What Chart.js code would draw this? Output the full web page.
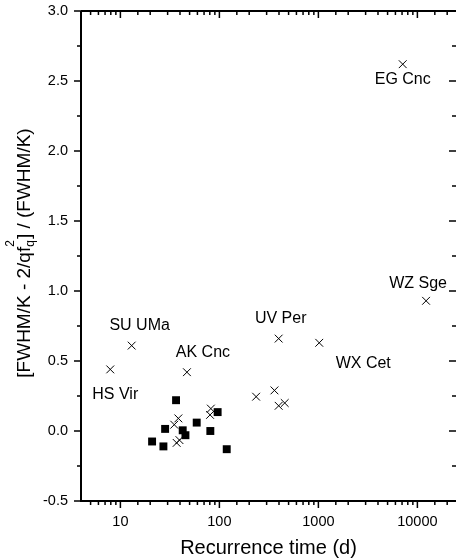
<!DOCTYPE html>
<html>
<head>
<meta charset="utf-8">
<script src="https://cdn.jsdelivr.net/npm/chart.js@4/dist/chart.umd.min.js"></script>
<style>
html, body { margin: 0; padding: 0; background: #fff; overflow: hidden; }
</style>
</head>
<body>
<canvas id="chart" width="456" height="560"></canvas>
<script>
// Crosses: recurrence time (d) and normalised width difference
// (the first seven are the named systems)
const crossTimes  = [7110, 12240, 13.0, 7.9, 47, 397, 1020, 235, 360, 397, 457, 38.5, 35, 39.5, 37, 82, 80.5];
const crossValues = [2.62, 0.93, 0.61, 0.44, 0.42, 0.66, 0.63, 0.245, 0.29, 0.18, 0.20, 0.09, 0.045, -0.065, -0.085, 0.16, 0.115];
const starNames   = ['EG Cnc', 'WZ Sge', 'SU UMa', 'HS Vir', 'AK Cnc', 'UV Per', 'WX Cet'];

// Filled squares
const squareTimes  = [36.5, 28.3, 20.9, 27.2, 42.6, 45.4, 59, 81, 96, 118.6];
const squareValues = [0.22, 0.015, -0.075, -0.11, 0.005, -0.03, 0.06, 0.0, 0.135, -0.13];

// Tick labels
const xTickLabels = [10, 100, 1000, 10000];
const yTickLabels = [-0.5, 0.0, 0.5, 1.0, 1.5, 2.0, 2.5, 3.0];

const FONT = '"Liberation Sans", Arial, Helvetica, sans-serif';
Chart.defaults.font.family = FONT;
Chart.defaults.color = '#000';

// Where each name sits relative to its cross (pixels, text centre / baseline)
const nameOffsets = [[0, 20], [-8, -13], [8, -16], [5, 30], [16, -15], [2, -16], [44, 25]];

function isDecade(v) {
    const l = Math.log10(v);
    return Math.abs(l - Math.round(l)) < 1e-6;
}
function isHalf(v) {
    return Math.abs(v * 2 - Math.round(v * 2)) < 1e-6;
}

// Axis lines and tick marks (inside on top/right, outside on bottom/left)
const framePlugin = {
    id: 'frame',
    afterDraw(chart) {
        const { ctx, chartArea: a, scales: { x, y } } = chart;
        ctx.save();
        ctx.strokeStyle = '#000';
        ctx.lineWidth = 2;
        ctx.beginPath();
        ctx.moveTo(a.left, a.top);
        ctx.lineTo(a.right + 2, a.top);
        ctx.moveTo(a.left, a.top);
        ctx.lineTo(a.left, a.bottom);
        ctx.lineTo(a.right + 2, a.bottom);
        ctx.moveTo(a.right + 1, a.top);
        ctx.lineTo(a.right + 1, a.bottom);
        ctx.stroke();

        ctx.lineWidth = 1.5;
        ctx.beginPath();
        for (const t of x.ticks) {
            if (t.value <= x.min || t.value >= x.max) continue;
            const px = x.getPixelForValue(t.value);
            const len = isDecade(t.value) ? 7 : 4;
            ctx.moveTo(px, a.bottom);
            ctx.lineTo(px, a.bottom + len);
            ctx.moveTo(px, a.top);
            ctx.lineTo(px, a.top + len);
        }
        for (const t of y.ticks) {
            const py = y.getPixelForValue(t.value);
            const len = isHalf(t.value) ? 7 : 4;
            ctx.moveTo(a.left, py);
            ctx.lineTo(a.left - len, py);
            ctx.moveTo(a.right, py);
            ctx.lineTo(a.right - len, py);
        }
        ctx.stroke();
        ctx.restore();
    }
};

// Star names next to their crosses, and the y axis title with sub/superscripts
const textPlugin = {
    id: 'texts',
    afterDraw(chart) {
        const ctx = chart.ctx;
        const pts = chart.getDatasetMeta(0).data;
        ctx.save();
        ctx.fillStyle = '#000';
        ctx.font = '16px ' + FONT;
        ctx.textAlign = 'center';
        ctx.textBaseline = 'alphabetic';
        starNames.forEach((name, i) => {
            const p = pts[i];
            ctx.fillText(name, p.x + nameOffsets[i][0], p.y + nameOffsets[i][1]);
        });

        // y axis title
        const big = '19px ' + FONT, small = '12px ' + FONT;
        const left = '[FWHM/K - 2/qf', right = '] / (FWHM/K)';
        ctx.font = big;
        const w1 = ctx.measureText(left).width;
        const w3 = ctx.measureText(right).width;
        ctx.font = small;
        const w2 = Math.max(ctx.measureText('q').width, ctx.measureText('2').width) + 1;
        const total = w1 + w2 + w3;
        ctx.translate(30, 253);
        ctx.rotate(-Math.PI / 2);
        ctx.textAlign = 'left';
        let cx = -total / 2;
        ctx.font = big;
        ctx.fillText(left, cx, 0);
        cx += w1;
        ctx.font = small;
        ctx.fillText('q', cx, 4);
        ctx.fillText('2', cx, -16);
        cx += w2;
        ctx.font = big;
        ctx.fillText(right, cx, 0);
        ctx.restore();
    }
};

const toPoints = (xs, ys) => xs.map((v, i) => ({ x: v, y: ys[i] }));

const chartConfig = {
    type: 'scatter',
    data: {
        datasets: [{
            label: 'crosses',
            data: toPoints(crossTimes, crossValues),
            pointStyle: 'crossRot',
            pointRadius: 5.5,
            borderColor: '#000',
            backgroundColor: '#000',
            borderWidth: 1
        }, {
            label: 'squares',
            data: toPoints(squareTimes, squareValues),
            pointStyle: 'rect',
            pointRadius: 5.6,
            borderColor: '#000',
            backgroundColor: '#000',
            borderWidth: 0
        }]
    },
    options: {
        responsive: false,
        animation: false,
        devicePixelRatio: 1,
        layout: { autoPadding: false, padding: { top: 11, left: 0, right: 0, bottom: 0 } },
        scales: {
            x: {
                type: 'logarithmic',
                min: 4,
                max: 24550,
                grid: { display: false, drawTicks: false },
                border: { display: false },
                ticks: {
                    autoSkip: false,
                    maxRotation: 0,
                    padding: 12,
                    font: { size: 14.5 },
                    callback: (v) => xTickLabels.some(l => Math.abs(l - v) < 1e-6) ? String(v) : ''
                },
                title: {
                    display: true,
                    text: 'Recurrence time (d)',
                    font: { size: 20 },
                    padding: 0
                },
                afterFit: (s) => {
                    s.height = 59;
                    s.paddingLeft = 0;
                    s.paddingRight = 0;
                }
            },
            y: {
                type: 'linear',
                min: -0.5,
                max: 3.0,
                grid: { display: false, drawTicks: false },
                border: { display: false },
                ticks: {
                    stepSize: 0.25,
                    padding: 13,
                    font: { size: 14.5 },
                    callback: (v) => yTickLabels.some(l => Math.abs(l - v) < 1e-6) ? v.toFixed(1) : ''
                },
                afterFit: (s) => {
                    s.width = 81;
                    s.paddingTop = 0;
                    s.paddingBottom = 0;
                }
            }
        },
        plugins: {
            legend: { display: false },
            tooltip: { enabled: false }
        }
    },
    plugins: [framePlugin, textPlugin]
};

const chart = new Chart('chart', chartConfig);
</script>
</body>
</html>
